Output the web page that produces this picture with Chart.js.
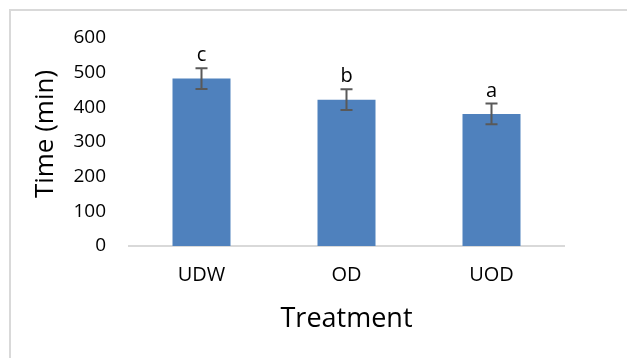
<!DOCTYPE html>
<html>
<head>
<meta charset="utf-8">
<script src="https://cdn.jsdelivr.net/npm/chart.js@4/dist/chart.umd.min.js"></script>
<style>
  html, body { margin: 0; padding: 0; background: #fff; }
  #wrap { position: relative; width: 627px; height: 358px; overflow: hidden; }
  #frame { position: absolute; left: 9px; top: 9px; width: 640px; height: 370px;
           border-left: 2px solid #d9d9d9; border-top: 2px solid #d9d9d9; }
  canvas { position: absolute; left: 0; top: 0; }
</style>
</head>
<body>
<div id="wrap">
  <div id="frame"></div>
  <canvas id="chart" width="627" height="358"></canvas>
</div>
<script>
// values
const treatments = ["UDW", "OD", "UOD"];
const timeMin = [483, 422, 381];
const timeErr = [30, 30, 30];
const sigLetters = ["c", "b", "a"];
const yTicks = [0, 100, 200, 300, 400, 500, 600];

const FONT = "'Open Sans', 'Noto Sans', sans-serif";

// error bars + significance letters on top of each bar, y title sits a bit above centre
const errorBars = {
  id: "errorBars",
  afterDatasetsDraw(chart) {
    const ctx = chart.ctx;
    const y = chart.scales.y;
    const meta = chart.getDatasetMeta(0);
    ctx.save();
    ctx.strokeStyle = "#595959";
    ctx.lineWidth = 2;
    meta.data.forEach(function(bar, i) {
      const x = bar.x;
      const top = y.getPixelForValue(timeMin[i] + timeErr[i]);
      const bot = y.getPixelForValue(timeMin[i] - timeErr[i]);
      ctx.beginPath();
      ctx.moveTo(x, top); ctx.lineTo(x, bot);
      ctx.moveTo(x - 6, top); ctx.lineTo(x + 6, top);
      ctx.moveTo(x - 6, bot); ctx.lineTo(x + 6, bot);
      ctx.stroke();
      ctx.fillStyle = "#000";
      ctx.font = "20px " + FONT;
      ctx.textAlign = "center";
      ctx.textBaseline = "alphabetic";
      ctx.fillText(sigLetters[i], x, top - 7);
    });
    // y axis title
    ctx.translate(46, (chart.chartArea.top + chart.chartArea.bottom) / 2 - 8);
    ctx.rotate(-Math.PI / 2);
    ctx.font = "26px " + FONT;
    ctx.textAlign = "center";
    ctx.textBaseline = "middle";
    ctx.fillText("Time (min)", 0, 0);
    ctx.restore();
  }
};

new Chart(document.getElementById("chart"), {
  type: "bar",
  data: {
    labels: treatments,
    datasets: [{
      data: timeMin,
      backgroundColor: "#4f81bd",
      borderWidth: 0,
      categoryPercentage: 1,
      barPercentage: 0.4
    }]
  },
  options: {
    responsive: false,
    animation: false,
    events: [],
    layout: { padding: { left: 0, right: 63, top: 38, bottom: 0 } },
    plugins: {
      legend: { display: false },
      tooltip: { enabled: false }
    },
    scales: {
      x: {
        grid: { display: false, drawTicks: false },
        border: { display: true, color: "#d9d9d9", width: 2 },
        ticks: { color: "#000", padding: 17, font: { family: FONT, size: 20 } },
        title: {
          display: true, text: "Treatment", color: "#000",
          font: { family: FONT, size: 27 }, padding: { top: 0, bottom: 22 }
        },
        afterFit(scale) { scale.height = 112; }
      },
      y: {
        min: 0, max: 600,
        afterBuildTicks(scale) { scale.ticks = yTicks.map(v => ({ value: v })); },
        grid: { display: false, drawTicks: false },
        border: { display: false },
        ticks: { color: "#000", padding: 23, font: { family: FONT, size: 19 } },
        title: { display: false },
        afterFit(scale) { scale.width = 129; }
      }
    }
  },
  plugins: [errorBars]
});
</script>
</body>
</html>
